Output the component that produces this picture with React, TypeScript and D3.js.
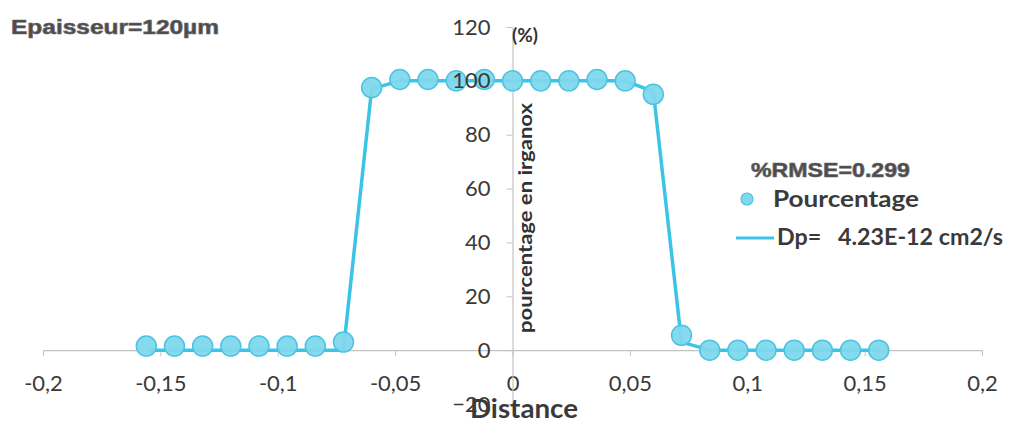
import React, { useEffect, useRef } from 'react';
import * as d3 from 'd3';

// distance (cm) of each measured point
const distance = [
  -0.156, -0.144, -0.132, -0.12, -0.108, -0.096, -0.084, -0.072,
  -0.06, -0.048, -0.036, -0.024, -0.012, 0, 0.012, 0.024, 0.036, 0.048,
  0.06, 0.072, 0.084, 0.096, 0.108, 0.12, 0.132, 0.144, 0.156,
];
// measured irganox percentage
const pourcentage = [
  1.5, 1.5, 1.5, 1.5, 1.5, 1.5, 1.5, 3,
  97.5, 100.5, 100.5, 100, 100.5, 100, 100, 100, 100.5, 100,
  95, 5.5, 0, 0, 0, 0, 0, 0, 0,
];
// fitted curve, Dp = 4.23E-12 cm2/s
const modele = [
  0, 0, 0, 0, 0, 0, 0, 0,
  97, 100, 100, 100, 100, 100, 100, 100, 100, 100,
  96, 3, 0, 0, 0, 0, 0, 0, 0,
];
const xTicks = [-0.2, -0.15, -0.1, -0.05, 0, 0.05, 0.1, 0.15, 0.2];
const yTicks = [-20, 0, 20, 40, 60, 80, 100, 120];

const lineColor = '#3cc4e6';
const dotFill = '#80d8ec';
const dotStroke = '#4cc3e2';

const App = () => {
  const svgRef = useRef(null);

  useEffect(() => {
    const svg = d3.select(svgRef.current);
    svg.selectAll('*').remove();

    const x = d3.scaleLinear().domain([-0.2, 0.2]).range([43, 982]);
    const y = d3.scaleLinear().domain([-20, 120]).range([404, 27]);

    const fr = d3.formatLocale({
      decimal: ',',
      thousands: ' ',
      grouping: [3],
      currency: ['', ''],
      minus: '-',
    });
    const fmt = fr.format('');

    // X axis (crosses at y = 0)
    const gx = svg.append('g')
      .attr('transform', `translate(0,${y(0)})`)
      .call(d3.axisBottom(x).tickValues(xTicks).tickSize(6).tickSizeOuter(0).tickFormat(fmt));
    gx.select('.domain').attr('stroke', '#c3c3c3').attr('stroke-width', 1.2);
    gx.selectAll('.tick line').attr('stroke', '#c3c3c3');
    gx.selectAll('.tick text')
      .attr('y', 41)
      .attr('dy', 0)
      .attr('fill', '#3a3a3a')
      .style('font-family', 'Lato, sans-serif')
      .style('font-size', '22px');

    // Y axis line and ticks (crosses at x = 0), labels drawn later on top
    const gy = svg.append('g')
      .attr('transform', `translate(${x(0)},0)`)
      .call(d3.axisLeft(y).tickValues(yTicks).tickSize(6).tickSizeOuter(0).tickFormat(() => ''));
    gy.select('.domain').attr('stroke', '#c3c3c3').attr('stroke-width', 1.2);
    gy.selectAll('.tick line').attr('stroke', '#c3c3c3');

    // fitted curve
    const line = d3.line()
      .x((d, i) => x(distance[i]))
      .y(d => y(d));

    svg.append('path')
      .datum(modele)
      .attr('fill', 'none')
      .attr('stroke', lineColor)
      .attr('stroke-width', 3.5)
      .attr('stroke-linejoin', 'round')
      .attr('d', line);

    // measured points
    svg.append('g')
      .selectAll('circle')
      .data(pourcentage)
      .join('circle')
      .attr('cx', (d, i) => x(distance[i]))
      .attr('cy', d => y(d))
      .attr('r', 10)
      .attr('fill', dotFill)
      .attr('fill-opacity', 0.95)
      .attr('stroke', dotStroke)
      .attr('stroke-width', 1.5);

    // Y tick labels above the series
    const gyl = svg.append('g')
      .attr('transform', `translate(${x(0)},0)`)
      .call(d3.axisLeft(y).tickValues(yTicks).tickSize(0).tickPadding(22));
    gyl.select('.domain').remove();
    gyl.selectAll('.tick text')
      .attr('fill', '#3a3a3a')
      .style('font-family', 'Lato, sans-serif')
      .style('font-size', '22px');

    const fit = (sel, len) => sel.attr('textLength', len).attr('lengthAdjust', 'spacingAndGlyphs');

    // labels
    svg.append('text')
      .attr('x', 11)
      .attr('y', 34)
      .call(fit, 208)
      .attr('fill', '#4a4a4a')
      .attr('stroke', '#6a6a6a')
      .attr('stroke-width', 0.7)
      .style('font-family', '"Liberation Sans", Arial, sans-serif')
      .style('font-weight', 'bold')
      .style('font-size', '21px')
      .text('Epaisseur=120\u00b5m');

    svg.append('text')
      .attr('x', 512)
      .attr('y', 42)
      .attr('fill', '#333')
      .style('font-family', 'Lato, sans-serif')
      .style('font-weight', 'bold')
      .style('font-size', '19px')
      .text('(%)');

    svg.append('text')
      .attr('transform', `translate(532,${(103 + 333) / 2}) rotate(-90)`)
      .attr('text-anchor', 'middle')
      .call(fit, 230)
      .attr('fill', '#333')
      .style('font-family', 'Lato, sans-serif')
      .style('font-weight', 'bold')
      .style('font-size', '19px')
      .text('pourcentage en irganox');

    svg.append('text')
      .attr('x', 470)
      .attr('y', 418)
      .call(fit, 108)
      .attr('fill', '#3a3a3a')
      .style('font-family', 'Lato, sans-serif')
      .style('font-weight', 'bold')
      .style('font-size', '27px')
      .text('Distance');

    // legend
    svg.append('text')
      .attr('x', 751)
      .attr('y', 177)
      .call(fit, 159)
      .attr('fill', '#4a4a4a')
      .attr('stroke', '#6a6a6a')
      .attr('stroke-width', 0.7)
      .style('font-family', '"Liberation Sans", Arial, sans-serif')
      .style('font-weight', 'bold')
      .style('font-size', '21px')
      .text('%RMSE=0.299');

    svg.append('circle')
      .attr('cx', 747)
      .attr('cy', 199)
      .attr('r', 6)
      .attr('fill', dotFill)
      .attr('stroke', dotStroke)
      .attr('stroke-width', 1.2);

    svg.append('text')
      .attr('x', 773)
      .attr('y', 207)
      .call(fit, 146)
      .attr('fill', '#3a3a3a')
      .style('font-family', 'Lato, sans-serif')
      .style('font-weight', 'bold')
      .style('font-size', '23px')
      .text('Pourcentage');

    svg.append('line')
      .attr('x1', 736)
      .attr('x2', 774)
      .attr('y1', 238)
      .attr('y2', 238)
      .attr('stroke', lineColor)
      .attr('stroke-width', 3);

    svg.append('text')
      .attr('x', 777)
      .attr('y', 245)
      .call(fit, 226)
      .attr('fill', '#3a3a3a')
      .attr('xml:space', 'preserve')
      .style('white-space', 'pre')
      .style('font-family', 'Lato, sans-serif')
      .style('font-weight', 'bold')
      .style('font-size', '22px')
      .text('Dp=   4.23E-12 cm2/s');
  }, []);

  return (
    <svg
      ref={svgRef}
      width={1012}
      height={421}
      style={{ position: 'absolute', left: 0, top: 0, background: '#fff' }}
    />
  );
};

export default App;
